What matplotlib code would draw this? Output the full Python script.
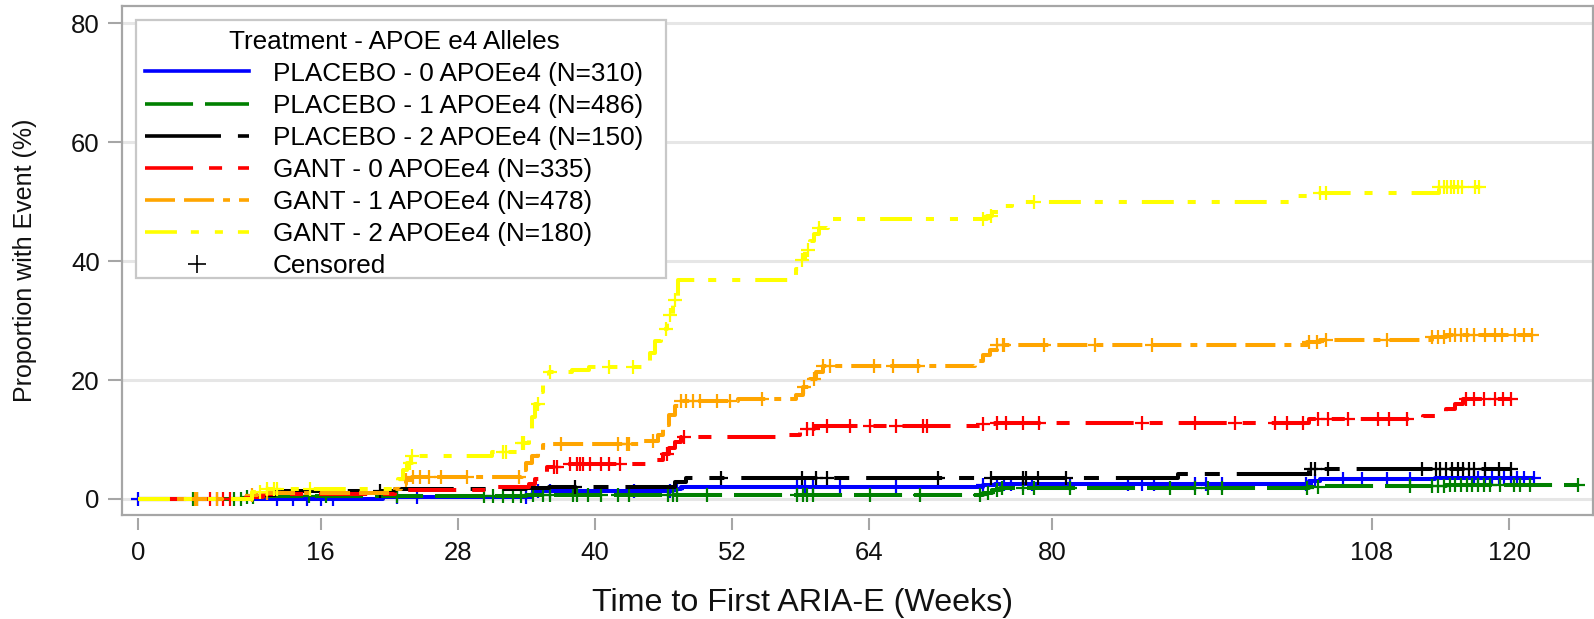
import numpy as np
import matplotlib.pyplot as plt
from matplotlib.lines import Line2D
from matplotlib.patches import Rectangle

plt.rcParams['font.family'] = ['Liberation Sans', 'DejaVu Sans']
plt.rcParams['lines.scale_dashes'] = False

# x ticks used on the plot (weeks)
week_ticks = [0, 16, 28, 40, 52, 64, 80, 108, 120]
pct_ticks = [0, 20, 40, 60, 80]

labels = [
    "PLACEBO - 0 APOEe4 (N=310)",
    "PLACEBO - 1 APOEe4 (N=486)",
    "PLACEBO - 2 APOEe4 (N=150)",
    "GANT - 0 APOEe4 (N=335)",
    "GANT - 1 APOEe4 (N=478)",
    "GANT - 2 APOEe4 (N=180)",
]

# step times (weeks) and cumulative proportion with event (%) after each step
pbo0_t = [0, 21.5, 34.5, 35.0, 46.8, 47.5, 74.0, 75.0, 102.5, 103.5, 113.5]
pbo0_v = [0, 0.3, 0.9, 1.3, 1.7, 2.1, 2.3, 2.6, 3.0, 3.3, 3.6]
pbo0_cens = [0, 12.2, 13.6, 14.8, 16.0, 17.1, 22.7, 24.4, 34.0, 35.0, 36.1, 43.4,
             46.6, 47.2, 57.7, 58.4, 59.1, 61.5, 66.4, 74.0, 75.2, 75.8, 76.4, 77.5,
             78.3, 81.6, 86.7, 87.9, 88.9, 92.5, 93.5, 94.9, 102.2, 103.0, 105.5,
             107.1, 109.3, 111.3, 116.9, 117.3, 117.9, 118.5, 119.1, 119.6, 120.2,
             120.7, 121.3, 122.2]

pbo1_t = [0, 9.5, 11.0, 34.0, 74.0, 74.8, 75.5, 102.5, 103.5, 114.5]
pbo1_v = [0, 0.3, 0.5, 0.6, 1.0, 1.5, 1.8, 2.0, 2.2, 2.3]
pbo1_cens = [4.8, 5.2, 8.4, 9.0, 9.6, 10.1, 15.0, 16.5, 22.7, 30.3, 31.1, 32.0,
             32.8, 33.5, 34.6, 35.5, 36.1, 38.1, 38.4, 39.4, 40.5, 42.0, 43.0,
             46.4, 46.8, 47.2, 49.8, 57.7, 58.2, 58.6, 59.1, 64.1, 68.5, 73.7,
             74.4, 75.2, 75.6, 77.5, 78.4, 81.6, 90.3, 92.5, 93.7, 94.9, 102.3,
             103.3, 111.3, 113.3, 113.8, 114.3, 114.8, 115.3, 115.8, 116.3, 116.8,
             117.3, 117.8, 118.3, 119.2, 120.4, 121.0, 121.8, 126.0]

pbo2_t = [0, 10.5, 12.0, 22.5, 34.0, 36.0, 47.0, 48.0, 91.0, 102.5]
pbo2_v = [0, 0.7, 1.3, 1.6, 1.9, 2.1, 2.8, 3.5, 4.2, 5.0]
pbo2_cens = [21.2, 38.3, 51.0, 58.1, 59.4, 60.3, 70.0, 74.7, 77.5, 77.7, 78.8,
             81.2, 102.7, 103.0, 104.2, 112.4, 113.6, 114.0, 114.5, 115.0, 115.5,
             116.0, 116.5, 116.9, 117.9, 119.1, 120.2]

gant0_t = [0, 9.5, 11.0, 22.5, 31.5, 34.2, 34.8, 35.3, 35.8, 37.0, 45.3, 46.0,
           46.5, 47.0, 47.5, 57.0, 58.0, 58.5, 59.2, 74.0, 75.0, 102.5, 112.5,
           113.5, 114.5, 115.3, 116.0]
gant0_v = [0, 0.4, 0.9, 1.5, 2.0, 2.6, 3.4, 4.5, 5.4, 5.9, 6.5, 7.6, 8.5, 9.5,
           10.4, 10.8, 11.3, 11.8, 12.3, 12.6, 12.8, 13.5, 14.0, 14.6, 15.2, 15.9,
           16.8]
gant0_cens = [6.3, 6.9, 7.5, 8.1, 36.4, 36.7, 37.8, 38.4, 38.7, 39.0, 39.6, 40.5,
              41.2, 42.2, 46.3, 47.8, 58.6, 59.1, 60.3, 62.3, 64.1, 66.4, 68.7,
              69.1, 74.0, 75.2, 76.0, 77.5, 78.9, 87.9, 92.5, 96.0, 99.5, 100.6,
              102.0, 103.3, 104.2, 105.9, 108.5, 109.5, 111.1, 116.2, 116.9, 117.8,
              118.8, 119.5, 120.2]

gant1_t = [0, 10.0, 11.0, 22.5, 23.0, 23.5, 24.0, 33.6, 34.0, 34.5, 35.0, 35.5,
           36.0, 44.0, 45.5, 46.0, 46.5, 47.0, 47.5, 52.5, 57.6, 58.2, 58.8, 59.4,
           60.0, 73.3, 74.0, 74.6, 75.2, 102.3, 103.5, 113.3, 114.5]
gant1_v = [0, 0.6, 1.0, 1.6, 2.5, 3.2, 3.7, 4.8, 6.0, 7.2, 8.3, 9.0, 9.3, 9.7,
           10.8, 12.5, 14.2, 15.6, 16.4, 16.8, 17.4, 18.8, 20.2, 21.3, 22.3, 23.2,
           24.2, 25.0, 25.8, 26.4, 26.8, 27.2, 27.6]
gant1_cens = [5.0, 5.2, 6.9, 10.0, 11.3, 23.5, 24.1, 24.7, 25.5, 26.5, 28.8,
              33.4, 37.0, 42.0, 42.8, 43.0, 45.1, 47.5, 48.0, 48.6, 49.2, 50.7,
              51.8, 54.6, 58.3, 59.2, 60.0, 60.6, 64.4, 66.1, 68.3, 75.2, 75.7,
              75.8, 79.3, 83.8, 88.8, 102.5, 103.2, 104.0, 109.3, 113.3, 113.8,
              114.3, 114.8, 115.3, 115.8, 116.3, 116.9, 117.9, 118.8, 119.4, 120.5,
              121.3, 122.0]

gant2_t = [0, 10.0, 11.0, 22.8, 23.2, 23.6, 24.0, 31.0, 33.5, 34.2, 34.5, 34.8,
           35.1, 35.5, 36.0, 38.0, 39.5, 44.8, 45.3, 45.8, 46.3, 46.8, 47.3, 57.6,
           58.0, 58.4, 58.8, 59.2, 59.6, 60.4, 74.3, 74.8, 75.5, 76.5, 101.5,
           103.3, 113.9]
gant2_v = [0, 1.1, 1.7, 3.3, 4.9, 6.1, 7.2, 7.9, 9.4, 11.5, 13.8, 16.0, 18.0,
           20.0, 21.3, 21.7, 22.2, 24.5, 26.5, 28.5, 31.0, 33.5, 36.8, 38.6, 40.2,
           41.8, 43.3, 44.6, 45.5, 47.0, 47.5, 48.3, 49.2, 50.0, 51.0, 51.5, 52.5]
gant2_cens = [10.7, 11.3, 11.9, 12.2, 15.1, 23.8, 24.0, 32.0, 32.2, 33.6, 33.8,
              35.0, 36.1, 41.2, 43.3, 46.2, 46.6, 47.0, 58.1, 58.7, 59.6, 74.0,
              74.7, 78.4, 103.5, 104.0, 113.9, 114.3, 114.6, 114.9, 115.2, 115.5,
              115.9, 117.0, 117.4]

colors = ['#0000ff', '#008000', '#000000', '#ff0000', '#ffa500', '#ffff00']
dashes = [
    (None, None),
    (34.6, 8.6),
    (54.7, 12.2, 10.8, 12.2),
    (34.6, 11.5, 9.4, 11.5),
    (21.6, 6.5, 21.6, 6.5, 5.0, 6.5),
    (23.0, 10.0, 5.8, 11.5, 5.8, 10.8),
]

curves = [
    (pbo0_t, pbo0_v, pbo0_cens),
    (pbo1_t, pbo1_v, pbo1_cens),
    (pbo2_t, pbo2_v, pbo2_cens),
    (gant0_t, gant0_v, gant0_cens),
    (gant1_t, gant1_v, gant1_cens),
    (gant2_t, gant2_v, gant2_cens),
]

grey = '#a6a6a6'
txt = '#111111'
fig = plt.figure(figsize=(15.94, 6.19), dpi=100)
ax = fig.add_axes([122 / 1594, 104 / 619, 1471 / 1594, 509 / 619])

handles = []
for (t, v, cens), col, ds, lab in zip(curves, colors, dashes, labels):
    t = np.asarray(t, float)
    v = np.asarray(v, float)
    cens = np.asarray(cens, float)
    end = max(cens.max(), t.max())
    xs = np.r_[t, end]
    ys = np.r_[v, v[-1]]
    kw = dict(color=col, lw=2.9, solid_capstyle='butt', dash_capstyle='butt')
    if ds[0] is None:
        ax.step(xs, ys, where='post', zorder=3, **kw)
    else:
        ax.step(xs, ys, where='post', dashes=ds, zorder=3, **kw)
    idx = np.searchsorted(t, cens, side='right') - 1
    ax.plot(cens, v[idx], ls='none', marker='+', ms=10.5, mew=1.6, color=col,
            zorder=3)
    h = Line2D([], [], color=col, lw=2.6, dash_capstyle='butt')
    if ds[0] is not None:
        h.set_dashes(ds)
    h.set_label(lab)
    handles.append(h)

handles.append(Line2D([], [], ls='none', marker='+', ms=13, mew=1.2,
                      color='black', label='Censored'))

ax.set_xlim(-1.374, 127.35)
ax.set_ylim(-2.69, 82.86)
ax.set_xticks(week_ticks)
ax.set_yticks(pct_ticks)
ax.yaxis.grid(True, color='#e6e6e6', lw=2.2, zorder=0)
ax.set_axisbelow(True)

for s in ['left', 'top', 'right']:
    ax.spines[s].set_color(grey)
    ax.spines[s].set_linewidth(1.6)
ax.spines['bottom'].set_position(('outward', 2.2))
ax.spines['bottom'].set_visible(False)
ax.plot([0, 1], [0, 0], transform=ax.transAxes, color=grey, lw=1.6,
        clip_on=False, zorder=5)

ax.tick_params(axis='x', length=8.6, width=1.5, color=grey, pad=8,
               labelsize=18.5, labelcolor=txt)
ax.tick_params(axis='y', length=10, width=1.5, color=grey, pad=6,
               labelsize=18.5, labelcolor=txt)

ax.set_xlabel("Time to First ARIA-E (Weeks)", fontsize=23.2, color=txt)
ax.xaxis.label.set_va('center')
ax.xaxis.set_label_coords((803 - 122) / 1471, (515 - 603) / 509)
ax.set_ylabel("Proportion with Event (%)", fontsize=18, color=txt)
ax.yaxis.label.set_va('center')
ax.yaxis.set_label_coords((25 - 122) / 1471, 0.5)

# legend box drawn separately so its size matches the reference
ax.add_patch(Rectangle((0.0095, 0.4656), 0.3603, 0.5069,
                       transform=ax.transAxes, facecolor='white',
                       edgecolor='#c8c8c8', lw=1.6, zorder=5.5))
leg = ax.legend(handles=handles, loc='upper left',
                bbox_to_anchor=(0.0112, 0.9666), borderaxespad=0,
                title="Treatment - APOE e4 Alleles", fontsize=18.8,
                title_fontsize=18.8, frameon=False, handlelength=4.0,
                handletextpad=0.9, labelspacing=0.31, borderpad=0.25)
leg.set_zorder(6)

fig.savefig("out.png", dpi=100)
